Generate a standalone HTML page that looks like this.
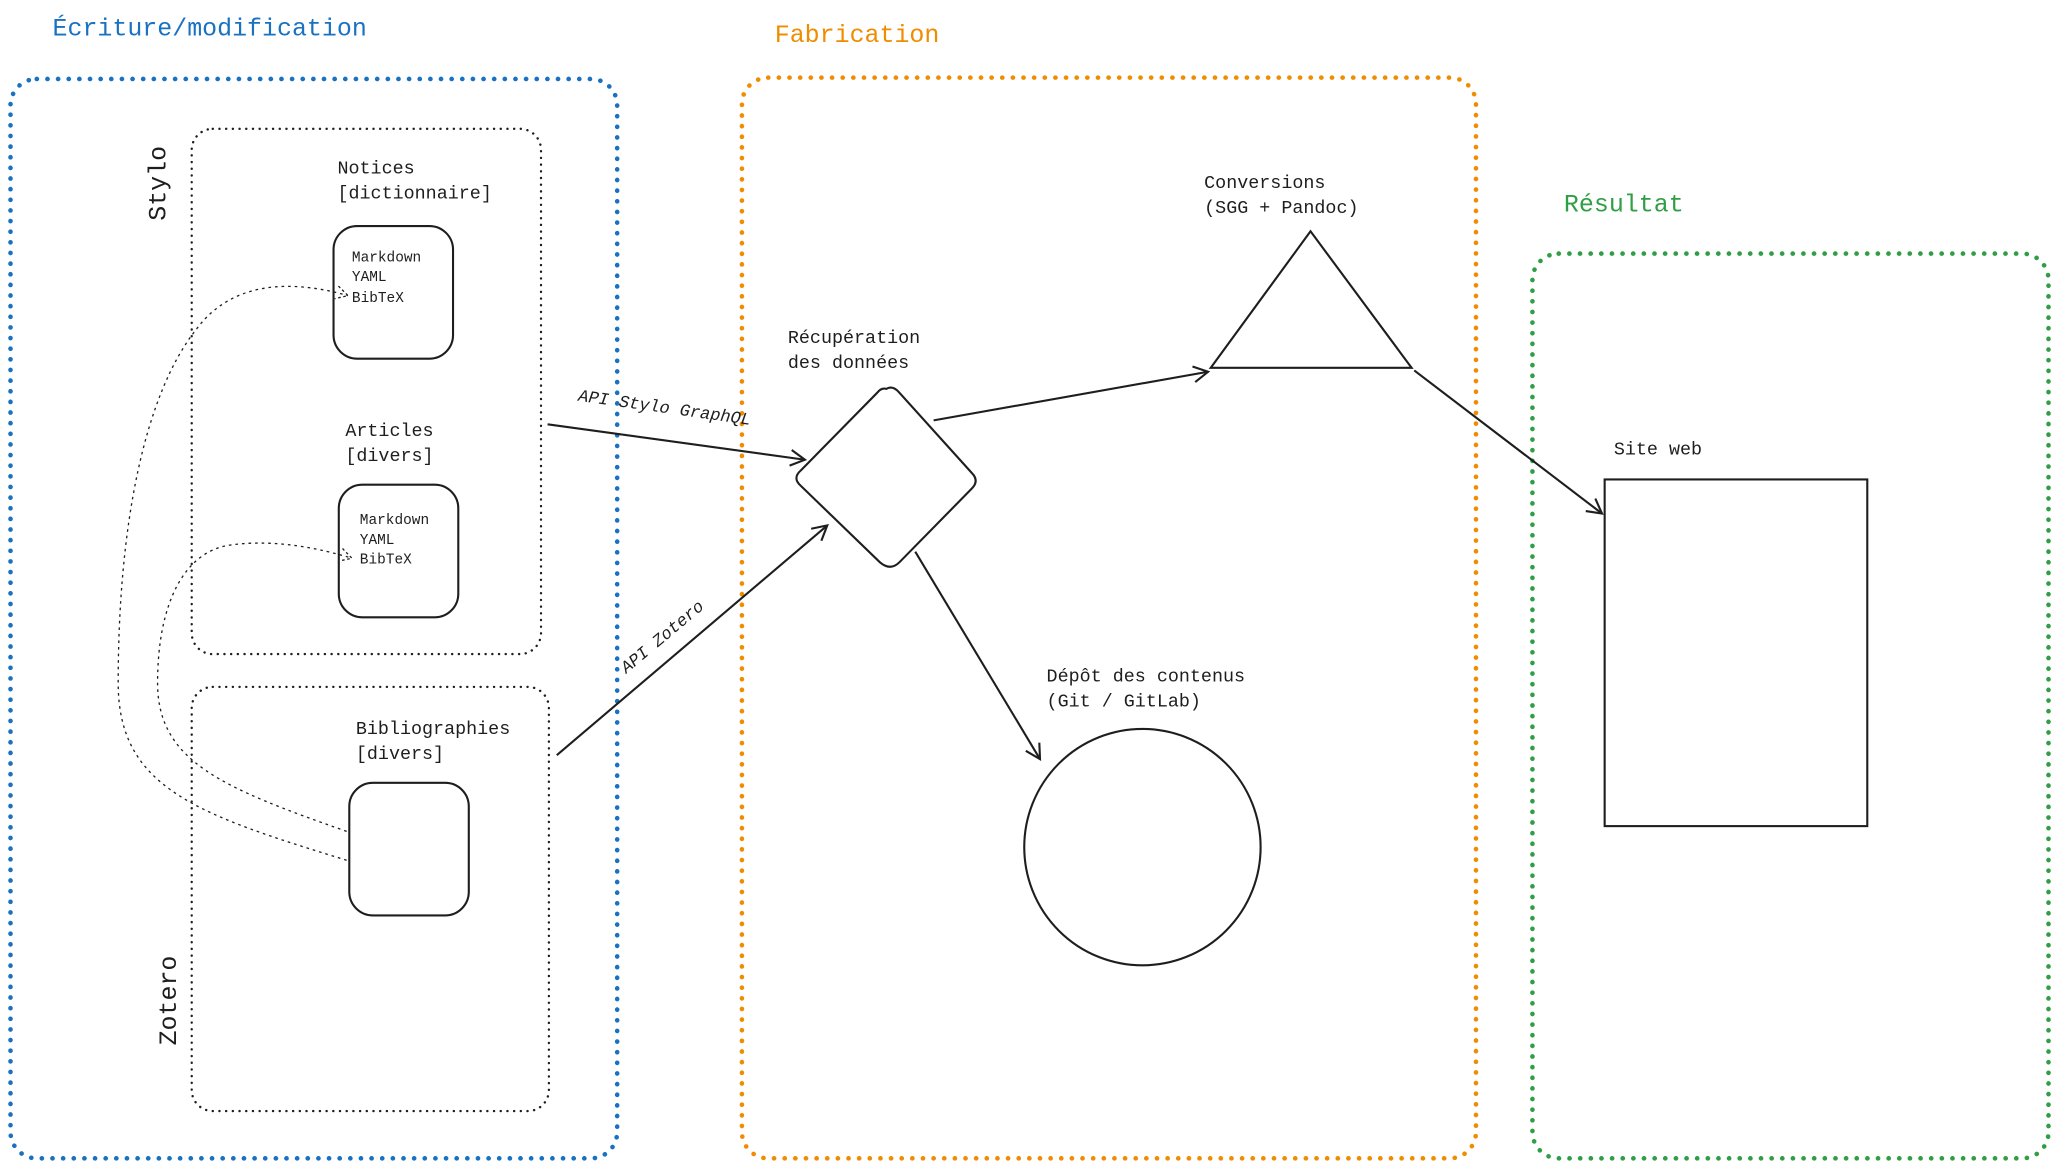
<!DOCTYPE html>
<html><head><meta charset="utf-8"><style>
html,body{margin:0;padding:0;background:#fff;}
svg{display:block;}
text{font-family:"Liberation Mono","DejaVu Sans Mono",monospace;fill:#1e1e1e;}
</style></head><body>
<svg width="2059" height="1169" viewBox="0 0 1568 890" xmlns="http://www.w3.org/2000/svg">
<defs>
<marker id="ar" markerWidth="14" markerHeight="14" refX="12" refY="7" orient="auto" markerUnits="userSpaceOnUse">
<path d="M1,1 L12,7 L1,13" fill="none" stroke="#1e1e1e" stroke-width="1.6"/>
</marker>
<marker id="ard" markerWidth="12" markerHeight="12" refX="10" refY="6" orient="auto" markerUnits="userSpaceOnUse">
<path d="M1,1 L10,6 L1,11" fill="none" stroke="#1e1e1e" stroke-width="1" stroke-dasharray="2 2"/>
</marker>
</defs>
<!-- titles -->
<text x="40" y="27" font-size="19" style="fill:#1971c2">Écriture/modification</text>
<text x="590" y="32" font-size="19" style="fill:#f08c00">Fabrication</text>
<text x="1191" y="161" font-size="19" style="fill:#2f9e44">Résultat</text>
<!-- big boxes -->
<rect x="8" y="60" width="462" height="822" rx="20" fill="none" stroke="#1971c2" stroke-width="3.5" stroke-dasharray="0.1 8" stroke-linecap="round"/>
<rect x="565" y="59" width="559" height="823" rx="20" fill="none" stroke="#f08c00" stroke-width="3.5" stroke-dasharray="0.1 8" stroke-linecap="round"/>
<rect x="1167" y="193" width="393" height="689" rx="20" fill="none" stroke="#2f9e44" stroke-width="3.5" stroke-dasharray="0.1 8" stroke-linecap="round"/>
<!-- inner dotted -->
<rect x="146" y="98" width="266" height="400" rx="16" fill="none" stroke="#1e1e1e" stroke-width="1.8" stroke-dasharray="0.1 5" stroke-linecap="round"/>
<rect x="146" y="523" width="272" height="323" rx="16" fill="none" stroke="#1e1e1e" stroke-width="1.8" stroke-dasharray="0.1 5" stroke-linecap="round"/>
<text transform="translate(126,168) rotate(-90)" font-size="19">Stylo</text>
<text transform="translate(134,796) rotate(-90)" font-size="19">Zotero</text>
<!-- notices -->
<text x="257" y="132" font-size="14">Notices</text>
<text x="257" y="151" font-size="14">[dictionnaire]</text>
<rect x="254" y="172" width="91" height="101" rx="18" fill="none" stroke="#1e1e1e" stroke-width="1.6"/>
<text x="268" y="199" font-size="11">Markdown</text>
<text x="268" y="214" font-size="11">YAML</text>
<text x="268" y="230" font-size="11">BibTeX</text>
<!-- articles -->
<text x="263" y="332" font-size="14">Articles</text>
<text x="263" y="351" font-size="14">[divers]</text>
<rect x="258" y="369" width="91" height="101" rx="18" fill="none" stroke="#1e1e1e" stroke-width="1.6"/>
<text x="274" y="399" font-size="11">Markdown</text>
<text x="274" y="414" font-size="11">YAML</text>
<text x="274" y="429" font-size="11">BibTeX</text>
<!-- bibliographies -->
<text x="271" y="559" font-size="14">Bibliographies</text>
<text x="271" y="578" font-size="14">[divers]</text>
<rect x="266" y="596" width="91" height="101" rx="18" fill="none" stroke="#1e1e1e" stroke-width="1.6"/>
<!-- dotted curves -->
<path d="M264,655 C150,620 90,600 90,520 C90,400 110,300 150,250 C180,210 230,215 265,225" fill="none" stroke="#1e1e1e" stroke-width="1" stroke-dasharray="2 3" marker-end="url(#ard)"/>
<path d="M264,633 C170,600 120,580 120,520 C120,460 140,420 175,415 C210,410 245,418 268,425" fill="none" stroke="#1e1e1e" stroke-width="1" stroke-dasharray="2 3" marker-end="url(#ard)"/>
<!-- diamond -->
<path d="M675,296 Q680,293 685,299 L740,360 Q746,366 740,372 L685,428 Q678,435 670,428 L610,370 Q603,364 610,358 L668,299 Q671,295 675,296 Z" fill="none" stroke="#1e1e1e" stroke-width="1.6"/>
<text x="600" y="261" font-size="14">Récupération</text>
<text x="600" y="280" font-size="14">des données</text>
<!-- triangle -->
<polygon points="998,176 1075,280 922,280" fill="none" stroke="#1e1e1e" stroke-width="1.6"/>
<text x="917" y="143" font-size="14">Conversions</text>
<text x="917" y="162" font-size="14">(SGG + Pandoc)</text>
<!-- circle -->
<circle cx="870" cy="645" r="90" fill="none" stroke="#1e1e1e" stroke-width="1.6"/>
<text x="797" y="519" font-size="14">Dépôt des contenus</text>
<text x="797" y="538" font-size="14">(Git / GitLab)</text>
<!-- rect -->
<rect x="1222" y="365" width="200" height="264" fill="none" stroke="#1e1e1e" stroke-width="1.6"/>
<text x="1229" y="346" font-size="14">Site web</text>
<!-- arrows -->
<line x1="417" y1="323" x2="613" y2="350" stroke="#1e1e1e" stroke-width="1.6" marker-end="url(#ar)"/>
<text transform="translate(440,305) rotate(8)" font-size="13" font-style="italic">API Stylo GraphQL</text>
<line x1="424" y1="575" x2="630" y2="400" stroke="#1e1e1e" stroke-width="1.6" marker-end="url(#ar)"/>
<text transform="translate(477,513) rotate(-40)" font-size="13" font-style="italic">API Zotero</text>
<line x1="711" y1="320" x2="920" y2="283" stroke="#1e1e1e" stroke-width="1.6" marker-end="url(#ar)"/>
<line x1="697" y1="420" x2="792" y2="578" stroke="#1e1e1e" stroke-width="1.6" marker-end="url(#ar)"/>
<line x1="1077" y1="282" x2="1220" y2="391" stroke="#1e1e1e" stroke-width="1.6" marker-end="url(#ar)"/>
</svg>
</body></html>
